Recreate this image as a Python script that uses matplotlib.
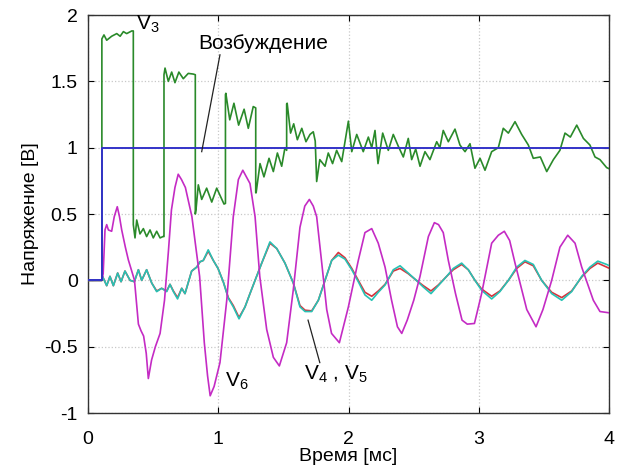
import matplotlib
matplotlib.use("Agg")
import matplotlib.pyplot as plt

plt.rcParams['font.family'] = ['Liberation Sans', 'DejaVu Sans']
plt.rcParams['mathtext.fontset'] = 'custom'
plt.rcParams['mathtext.rm'] = 'Liberation Sans'

# Excitation (step input)
t_exc = [0.0, 0.11, 0.11, 4.0]
v_exc = [0.0, 0.0, 1.0, 1.0]

# V3 response
t_v3 = [0.0, 0.11, 0.11, 0.126, 0.147, 0.185, 0.224, 0.25, 0.275, 0.30, 0.339, 0.351,
        0.351, 0.364, 0.377, 0.402, 0.428, 0.453, 0.479, 0.504, 0.53, 0.556, 0.578, 0.586,
        0.586, 0.594, 0.619, 0.645, 0.67, 0.70, 0.734, 0.772, 0.81, 0.826,
        0.826, 0.831, 0.849, 0.875, 0.913, 0.952, 0.99, 1.046, 1.057,
        1.057, 1.06, 1.09, 1.122, 1.158, 1.2, 1.232, 1.27, 1.289,
        1.289, 1.292, 1.322, 1.352, 1.391, 1.424, 1.455, 1.488, 1.513, 1.526,
        1.526, 1.53, 1.556, 1.58, 1.608, 1.642, 1.674, 1.705, 1.73, 1.745, 1.756,
        1.78, 1.82, 1.845, 1.878, 1.909, 1.948, 1.999, 2.025, 2.063, 2.113, 2.152,
        2.178, 2.203, 2.226, 2.262, 2.305, 2.343, 2.382, 2.42, 2.458, 2.484, 2.515,
        2.548, 2.586, 2.624, 2.676, 2.70, 2.726, 2.765, 2.816, 2.854, 2.893, 2.931,
        2.969, 3.008, 3.046, 3.097, 3.148, 3.186, 3.225, 3.276, 3.327, 3.378, 3.416,
        3.47, 3.519, 3.57, 3.62, 3.659, 3.70, 3.749, 3.80, 3.85, 3.889, 3.927, 3.978, 4.0]
v_v3 = [0.0, 0.0, 1.82, 1.85, 1.81, 1.84, 1.86, 1.84, 1.875, 1.86, 1.88, 1.88,
        0.42, 0.32, 0.455, 0.35, 0.39, 0.33, 0.38, 0.32, 0.37, 0.32, 0.33, 0.33,
        1.55, 1.60, 1.50, 1.57, 1.49, 1.57, 1.52, 1.56, 1.555, 1.55,
        0.50, 0.53, 0.72, 0.61, 0.695, 0.59, 0.695, 0.575, 0.58,
        1.40, 1.41, 1.21, 1.335, 1.17, 1.29, 1.146, 1.31, 1.30,
        0.66, 0.66, 0.88, 0.78, 0.92, 0.82, 0.96, 0.86, 1.00, 0.98,
        1.33, 1.335, 1.11, 1.18, 1.06, 1.146, 1.045, 1.10, 1.12, 1.05, 0.745,
        0.91, 0.86, 0.96, 0.88, 0.98, 0.895, 1.20, 0.97, 1.10, 0.97, 1.08,
        1.00, 1.13, 0.88, 1.11, 0.98, 1.10, 1.01, 0.93, 1.07, 0.91, 0.99,
        0.86, 0.97, 0.91, 1.045, 1.00, 1.13, 1.045, 1.14, 1.02, 0.97, 1.03,
        0.845, 0.92, 0.83, 0.97, 1.00, 1.146, 1.11, 1.196, 1.10, 1.02, 0.92,
        0.93, 0.82, 0.91, 0.98, 1.11, 1.08, 1.17, 1.07, 1.02, 0.93, 0.91, 0.85, 0.84]

# V6 response
t_v6 = [0.0, 0.11, 0.12, 0.134, 0.147, 0.16, 0.185, 0.205, 0.228, 0.245, 0.262, 0.29,
        0.313, 0.345, 0.36, 0.39, 0.41, 0.43, 0.45, 0.466, 0.491, 0.52, 0.556, 0.59,
        0.62, 0.643, 0.67, 0.695, 0.72, 0.75, 0.80, 0.83, 0.859, 0.895, 0.92, 0.94,
        0.97, 1.015, 1.067, 1.117, 1.156, 1.19, 1.245, 1.284, 1.32, 1.373, 1.424,
        1.47, 1.526, 1.577, 1.628, 1.665, 1.70, 1.73, 1.756, 1.795, 1.833, 1.87,
        1.93, 1.999, 2.075, 2.126, 2.178, 2.228, 2.28, 2.33, 2.375, 2.408, 2.45,
        2.50, 2.548, 2.612, 2.658, 2.69, 2.726, 2.765, 2.82, 2.87, 2.91, 2.965,
        3.02, 3.097, 3.148, 3.194, 3.235, 3.276, 3.366, 3.437, 3.49, 3.557, 3.62,
        3.68, 3.736, 3.787, 3.876, 3.927, 4.0]
v_v6 = [0.0, 0.0, 0.05, 0.38, 0.42, 0.38, 0.37, 0.48, 0.555, 0.48, 0.38, 0.25,
        0.154, 0.05, 0.0, -0.33, -0.38, -0.42, -0.55, -0.74, -0.60, -0.50, -0.40, -0.15,
        0.22, 0.53, 0.70, 0.80, 0.76, 0.70, 0.48, 0.25, 0.03, -0.47, -0.72, -0.87,
        -0.80, -0.62, -0.15, 0.48, 0.76, 0.83, 0.73, 0.48, 0.03, -0.37, -0.58,
        -0.645, -0.47, -0.07, 0.40, 0.56, 0.61, 0.56, 0.48, 0.13, -0.22, -0.40,
        -0.47, -0.20, 0.15, 0.36, 0.39, 0.28, 0.10, -0.15, -0.35, -0.40, -0.30,
        -0.15, 0.03, 0.33, 0.435, 0.42, 0.36, 0.15, -0.10, -0.30, -0.33, -0.325,
        -0.10, 0.28, 0.34, 0.37, 0.30, 0.13, -0.22, -0.35, -0.22, 0.0, 0.25,
        0.34, 0.28, 0.10, -0.15, -0.235, -0.245]

# V4 and V5 responses (shared time base)
t_v45 = [0.0, 0.109, 0.115, 0.147, 0.172, 0.198, 0.231, 0.257, 0.287, 0.326, 0.359, 0.39,
         0.415, 0.453, 0.492, 0.53, 0.568, 0.607, 0.632, 0.658, 0.69, 0.722, 0.747, 0.798,
         0.837, 0.862, 0.887, 0.925, 0.964, 1.0, 1.04, 1.079, 1.117, 1.161, 1.207, 1.245,
         1.284, 1.335, 1.398, 1.45, 1.513, 1.577, 1.628, 1.667, 1.718, 1.769, 1.82, 1.871,
         1.922, 1.973, 2.025, 2.075, 2.126, 2.178, 2.228, 2.28, 2.343, 2.395, 2.458, 2.52,
         2.573, 2.632, 2.688, 2.752, 2.803, 2.867, 2.918, 2.969, 3.02, 3.097, 3.16, 3.225,
         3.289, 3.352, 3.416, 3.48, 3.557, 3.634, 3.71, 3.787, 3.85, 3.91, 3.978, 4.0]
v_v4 = [0.0, 0.0, 0.03, -0.04, 0.03, -0.04, 0.055, -0.01, 0.07, 0.0, -0.01, 0.08,
        0.0, 0.08, -0.02, -0.085, -0.06, -0.085, -0.03, -0.085, -0.14, -0.06, -0.10, 0.07,
        0.10, 0.14, 0.15, 0.23, 0.15, 0.09, -0.01, -0.135, -0.20, -0.29, -0.20, -0.10,
        0.0, 0.13, 0.29, 0.24, 0.13, -0.02, -0.20, -0.235, -0.235, -0.15, 0.0, 0.15,
        0.19, 0.16, 0.08, -0.01, -0.11, -0.15, -0.09, -0.035, 0.08, 0.11, 0.055, 0.0,
        -0.05, -0.10, -0.04, 0.03, 0.09, 0.13, 0.08, 0.0, -0.075, -0.14, -0.085, 0.0,
        0.10, 0.15, 0.12, 0.0, -0.10, -0.15, -0.085, 0.03, 0.10, 0.145, 0.12, 0.11]
v_v5 = [0.0, 0.0, 0.03, -0.04, 0.03, -0.04, 0.055, -0.01, 0.07, 0.0, -0.01, 0.08,
        0.0, 0.08, -0.02, -0.08, -0.06, -0.08, -0.03, -0.08, -0.13, -0.06, -0.10, 0.07,
        0.10, 0.14, 0.15, 0.22, 0.15, 0.09, -0.01, -0.13, -0.19, -0.28, -0.20, -0.10,
        0.0, 0.13, 0.28, 0.24, 0.13, -0.02, -0.19, -0.225, -0.23, -0.15, 0.0, 0.15,
        0.21, 0.17, 0.09, 0.0, -0.09, -0.12, -0.08, -0.03, 0.07, 0.09, 0.05, 0.0,
        -0.04, -0.08, -0.035, 0.03, 0.08, 0.12, 0.08, 0.0, -0.065, -0.12, -0.08, 0.0,
        0.09, 0.14, 0.11, 0.0, -0.09, -0.13, -0.08, 0.025, 0.09, 0.13, 0.10, 0.09]

x_ticks = [0, 1, 2, 3, 4]
y_ticks = [-1, -0.5, 0, 0.5, 1, 1.5, 2]
x_tick_labels = ['0', '1', '2', '3', '4']
y_tick_labels = ['-1', '-0.5', '0', '0.5', '1', '1.5', '2']

fig = plt.figure(figsize=(6.22, 4.71), dpi=100)
ax = fig.add_axes([0.1407, 0.1231, 0.8392, 0.845])

lw = 1.2
style = dict(lw=lw, solid_joinstyle='round', solid_capstyle='round')
ax.plot(t_v45, v_v5, color='#d8323c', zorder=3, **style)
ax.plot(t_v45, v_v4, color='#27c2b4', zorder=4, **style)
ax.plot(t_v6, v_v6, color='#c42bc4', zorder=5, **style)
ax.plot(t_v3, v_v3, color='#2a8a2a', zorder=6, **style)
ax.plot(t_exc, v_exc, color='#3333c8', lw=1.4, zorder=7)

ax.set_xlim(0, 4)
ax.set_ylim(-1, 2)
ax.set_xticks(x_ticks)
ax.set_xticklabels(x_tick_labels)
ax.set_yticks(y_ticks)
ax.set_yticklabels(y_tick_labels)
ax.tick_params(direction='in', top=True, right=True, length=4, width=0.8,
               labelsize=14)
ax.tick_params(axis='x', pad=13)
ax.tick_params(axis='y', pad=7)
ax.grid(True, color='#c8c8c8', linestyle=':', linewidth=0.9)
ax.set_axisbelow(True)
for s in ax.spines.values():
    s.set_linewidth(1.0)
    s.set_color('#333333')

ax.set_xlabel('Время [мс]', fontsize=14, labelpad=0)
ax.set_ylabel('Напряжение [В]', fontsize=14, labelpad=4)

# Curve labels with leader lines
ax.text(0.375, 1.89, r'V$_\mathregular{3}$', fontsize=15, zorder=10)
ax.text(0.849, 1.745, 'Возбуждение', fontsize=15, zorder=10)
ax.plot([1.015, 0.875], [1.70, 0.97], color='#222222', lw=0.9, zorder=9)
ax.text(1.054, -0.80, r'V$_\mathregular{6}$', fontsize=15, zorder=10)
ax.text(1.659, -0.75, r'V$_\mathregular{4}$ , V$_\mathregular{5}$', fontsize=15, zorder=10)
ax.plot([1.69, 1.78], [-0.30, -0.62], color='#222222', lw=0.9, zorder=9)

fig.savefig('out.png', dpi=100)
